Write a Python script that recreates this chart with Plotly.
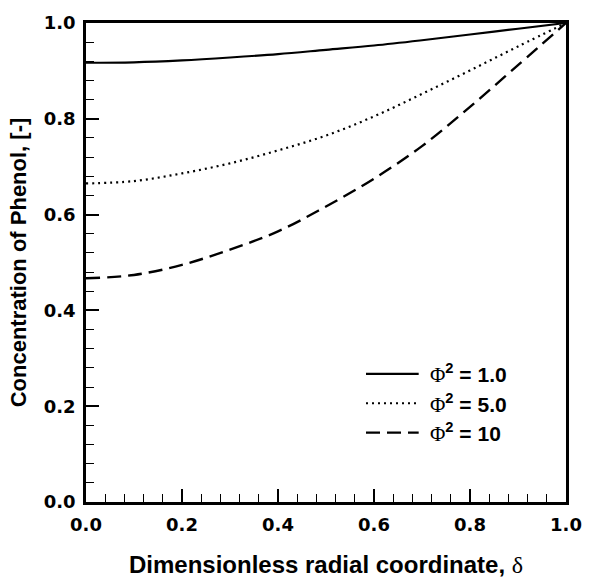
import plotly.graph_objects as go

delta = [0.0, 0.1, 0.2, 0.3, 0.4, 0.5, 0.6, 0.7, 0.8, 0.9, 1.0]
phi2_1 = [0.917, 0.918, 0.922, 0.928, 0.935, 0.944, 0.953, 0.964, 0.976, 0.988, 1.0]
phi2_5 = [0.665, 0.670, 0.686, 0.707, 0.734, 0.765, 0.805, 0.852, 0.901, 0.951, 1.0]
phi2_10 = [0.467, 0.474, 0.495, 0.527, 0.565, 0.617, 0.675, 0.743, 0.825, 0.912, 1.0]
labels = ["1.0", "5.0", "10"]
x_ticks = [0.0, 0.2, 0.4, 0.6, 0.8, 1.0]
y_ticks = [0.0, 0.2, 0.4, 0.6, 0.8, 1.0]

SERIF = "font-family:'Liberation Serif';font-weight:normal"
FONT = "Liberation Sans"
TICKFONT = "DejaVu Sans"

# plot-area geometry in pixels (for the hand-made legend)
W, H = 594, 586
ML, MR, MT, MB = 86, 16, 19, 77
PW, PH = W - ML - MR, H - MT - MB

def px_x(p):
    return (p - ML) / PW

def px_y(p):
    return (H - MB - p) / PH

fig = go.Figure()
styles = [("solid", 2.2), ("2px,4px", 2.2), ("14px,7px", 2.4)]
legend_rows = [378, 408, 438]
for ys, lab, (dash, w), row in zip([phi2_1, phi2_5, phi2_10], labels, styles, legend_rows):
    fig.add_trace(go.Scatter(
        x=delta, y=ys, mode="lines", line_shape="spline",
        line=dict(color="black", width=w, dash=dash),
        name=f"Φ2 = {lab}", showlegend=False,
    ))
    fig.add_shape(type="line", xref="paper", yref="paper",
                  x0=px_x(373), x1=px_x(427), y0=px_y(row), y1=px_y(row),
                  line=dict(color="black", width=w, dash=dash))
    fig.add_annotation(xref="paper", yref="paper", x=px_x(437), y=px_y(row),
                       xanchor="left", yanchor="middle", showarrow=False,
                       text=f"<span style=\"{SERIF}\">Φ</span><sup>2</sup> = {lab}",
                       font=dict(family=FONT, size=21, color="black", weight="bold"))

axis_common = dict(
    range=[0, 1], showgrid=False, zeroline=False,
    showline=True, linecolor="black", linewidth=2.5, mirror=True,
    ticks="inside", ticklen=13, tickwidth=1.5, tickcolor="black",
    tickformat=".1f",
    tickfont=dict(family=TICKFONT, size=18, color="black", weight="bold"),
)

fig.update_xaxes(**axis_common, tickvals=x_ticks, ticklabelstandoff=5,
                 minor=dict(ticks="inside", dtick=0.04, ticklen=8, tickwidth=1.2, tickcolor="black"),
                 title=dict(text=f"Dimensionless radial coordinate, <span style=\"{SERIF}\">δ</span>",
                            font=dict(family=FONT, size=24, color="black", weight="bold"), standoff=22))
fig.update_yaxes(**axis_common, tickvals=y_ticks, ticklabelstandoff=4,
                 minor=dict(ticks="inside", dtick=0.04, ticklen=8, tickwidth=1.2, tickcolor="black"),
                 title=dict(text="Concentration of Phenol, [-]",
                            font=dict(family=FONT, size=22, color="black", weight="bold"), standoff=12))

fig.update_layout(
    width=W, height=H,
    margin=dict(l=ML, r=MR, t=MT, b=MB),
    plot_bgcolor="white", paper_bgcolor="white",
    showlegend=False,
)

fig.write_html("out.html", config={"displayModeBar": False},
               post_script="document.body.style.margin='0';document.body.style.padding='0';")
